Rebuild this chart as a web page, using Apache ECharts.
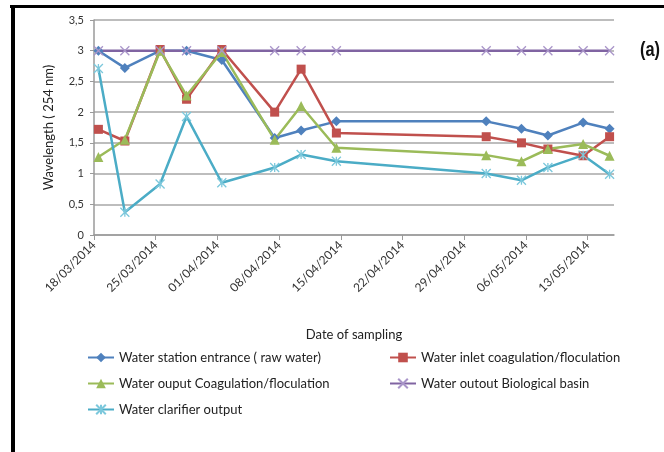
<!DOCTYPE html>
<html>
<head>
<meta charset="utf-8">
<script src="https://cdn.jsdelivr.net/npm/echarts@6/dist/echarts.min.js"></script>
<style>
html,body{margin:0;padding:0;background:#fff;}
#c{width:664px;height:452px;}
</style>
</head>
<body>
<div id="c"></div>
<script>
// ---- data ----
const sampleDates = ['18/03/2014','21/03/2014','25/03/2014','28/03/2014','01/04/2014','07/04/2014','10/04/2014','14/04/2014','01/05/2014','05/05/2014','08/05/2014','12/05/2014','15/05/2014'];
const rawWater    = [3.00, 2.72, 3.00, 3.00, 2.85, 1.58, 1.70, 1.85, 1.85, 1.73, 1.62, 1.83, 1.73];
const inletCoag   = [1.72, 1.53, 3.02, 2.21, 3.02, 2.00, 2.70, 1.66, 1.60, 1.50, 1.40, 1.29, 1.60];
const outputCoag  = [1.27, 1.55, 3.00, 2.27, 2.98, 1.55, 2.10, 1.42, 1.30, 1.20, 1.40, 1.48, 1.29];
const bioBasin    = [3, 3, 3, 3, 3, 3, 3, 3, 3, 3, 3, 3, 3];
const clarifier   = [2.71, 0.37, 0.83, 1.93, 0.85, 1.10, 1.31, 1.20, 1.00, 0.89, 1.10, 1.30, 0.99];
const tickDates   = ['18/03/2014','25/03/2014','01/04/2014','08/04/2014','15/04/2014','22/04/2014','29/04/2014','06/05/2014','13/05/2014'];
const axisEndDate = '16/05/2014';
const seriesNames = ['Water station entrance ( raw water)','Water inlet coagulation/floculation','Water ouput Coagulation/floculation','Water outout Biological basin','Water clarifier output'];

// ---- helpers ----
function toDay(s){ const p=s.split('/'); return Date.UTC(+p[2], +p[1]-1, +p[0]) / 86400000; }
const day0 = toDay(tickDates[0]);
function dayOffset(s){ return toDay(s) - day0; }
function fmtDay(v){
  const d = new Date((day0 + v) * 86400000);
  const dd = String(d.getUTCDate()).padStart(2,'0');
  const mm = String(d.getUTCMonth()+1).padStart(2,'0');
  return dd + '/' + mm + '/' + d.getUTCFullYear();
}
// each date occupies a one-day band; points sit in the middle of their band
function pts(vals){ return sampleDates.map((s,i)=>[dayOffset(s)+0.5, vals[i]]); }
const tickVals = tickDates.map(dayOffset);

const FONT = 'Lato, "Open Sans", sans-serif';
const crossPath = 'path://M0,0L10,10M10,0L0,10';
const starPath = 'path://M0,0L10,10M10,0L0,10M5,0L5,10';

const chart = echarts.init(document.getElementById('c'), null, {renderer:'canvas'});
chart.setOption({
  animation:false,
  backgroundColor:'#fff',
  grid:{left:94, right:50, top:20, bottom:217, containLabel:false},
  xAxis:{
    type:'value', min:0, max:dayOffset(axisEndDate),
    name:'Date of sampling', nameLocation:'middle', nameGap:93,
    nameTextStyle:{fontFamily:FONT, fontSize:13, color:'#222'},
    axisLine:{show:true, lineStyle:{color:'#9a9a9a', width:1.5}},
    axisTick:{show:true, customValues:tickVals, length:5, lineStyle:{color:'#9a9a9a'}},
    axisLabel:{customValues:tickVals, rotate:45, margin:8, fontFamily:FONT, fontSize:12, color:'#333', formatter:fmtDay},
    splitLine:{show:false}
  },
  yAxis:{
    type:'value', min:0, max:3.5, interval:0.5,
    name:'Wavelength ( 254 nm)', nameLocation:'middle', nameGap:39, nameRotate:90,
    nameTextStyle:{fontFamily:FONT, fontSize:13, color:'#222'},
    axisLine:{show:true, lineStyle:{color:'#9a9a9a', width:1.5}},
    axisTick:{show:true, inside:false, length:4, lineStyle:{color:'#9a9a9a'}},
    axisLabel:{margin:10, fontFamily:FONT, fontSize:11, color:'#333', formatter:v=>String(v).replace('.',',')},
    splitLine:{show:true, lineStyle:{color:'#bdbdbd', width:2}}
  },
  legend:[
    {left:82, top:346, orient:'vertical', itemWidth:26, itemHeight:12, itemGap:13,
     textStyle:{fontFamily:FONT, fontSize:13, color:'#222'},
     data:[seriesNames[0], seriesNames[2], seriesNames[4]]},
    {left:384, top:346, orient:'vertical', itemWidth:26, itemHeight:12, itemGap:13,
     textStyle:{fontFamily:FONT, fontSize:13, color:'#222'},
     data:[seriesNames[1], seriesNames[3]]}
  ],
  graphic:[
    {type:'rect', shape:{x:10, y:5, width:660, height:3}, style:{fill:'#000'}},
    {type:'rect', shape:{x:11, y:5, width:4, height:452}, style:{fill:'#000'}},
    {type:'text', x:640, y:40, scaleX:0.78, style:{text:'(a)', font:'bold 21px "Liberation Sans Narrow", "Liberation Sans", sans-serif', fill:'#111'}}
  ],
  series:[
    {name:seriesNames[0], type:'line', data:pts(rawWater), symbol:'diamond', symbolSize:10,
     lineStyle:{color:'#4F81BD', width:2.5}, itemStyle:{color:'#4F81BD'}},
    {name:seriesNames[1], type:'line', data:pts(inletCoag), symbol:'rect', symbolSize:9,
     lineStyle:{color:'#C0504D', width:2.5}, itemStyle:{color:'#C0504D'}},
    {name:seriesNames[2], type:'line', data:pts(outputCoag), symbol:'triangle', symbolSize:10,
     lineStyle:{color:'#9BBB59', width:2.5}, itemStyle:{color:'#9BBB59'}},
    {name:seriesNames[3], type:'line', data:pts(bioBasin), symbol:crossPath, symbolSize:9,
     lineStyle:{color:'#8064A2', width:2.5}, itemStyle:{color:'#8064A2', borderColor:'#a995c9', borderWidth:1.3}},
    {name:seriesNames[4], type:'line', data:pts(clarifier), symbol:starPath, symbolSize:9,
     lineStyle:{color:'#4BACC6', width:2.5}, itemStyle:{color:'#4BACC6', borderColor:'#7cc8dc', borderWidth:1.3}}
  ]
});
</script>
</body>
</html>
